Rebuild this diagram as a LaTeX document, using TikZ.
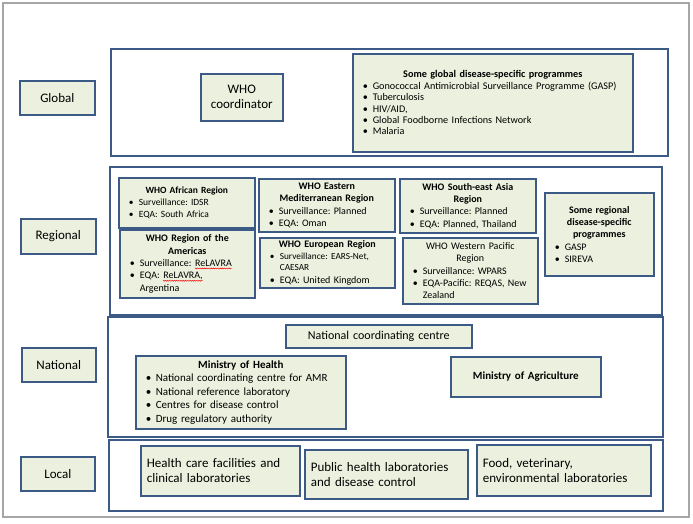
\documentclass[tikz,border=0pt]{standalone}
\usepackage{fontspec}
\setmainfont{Carlito}
\usetikzlibrary{decorations.pathmorphing}
\frenchspacing
\definecolor{boxfill}{HTML}{EBF1DE}
\definecolor{boxline}{HTML}{3B5A85}
\definecolor{pageframe}{HTML}{A6A6A6}
\newcommand\redwave[1]{\tikz[baseline=(wv.base), x=1cm, y=1cm]{\node[inner sep=0pt, anchor=base, draw=none, fill=none, text width={}, minimum width=0pt, minimum height=0pt, align=none] (wv) {#1}; \draw[red, line width=0.4pt, decorate, decoration={snake, amplitude=0.5pt, segment length=1.8pt}] ([yshift=-2pt]wv.base west) -- ([yshift=-2pt]wv.base east);}}
\newcommand\bitem[1]{\par\noindent\hangindent=17pt\hangafter=1\hspace*{7pt}\makebox[10pt][l]{\textbullet}#1\par}
\newcommand\btitle[1]{{\centering\bfseries #1\par}}
\newcommand\ntitle[1]{{\centering #1\par}}
\newcommand\pbox[7]{%
  \pgfmathsetmacro\tw{#4-#2-6}%
  \node[#6, anchor=north west, minimum width={#4pt-#2pt}, minimum height={#5pt-#3pt}, text width=\tw pt] (#1) at (#2,#3) {#7};}
\tikzset{
  box/.style={draw=boxline, fill=boxfill, line width=1.6pt, inner xsep=3pt, inner ysep=1pt},
  outer/.style={draw=boxline, fill=white, line width=1.6pt, inner sep=0pt},
  lab/.style={box, align=center, font=\fontsize{13}{15}\selectfont},
  reg/.style={box, font=\fontsize{10}{12.3}\selectfont},
}
\begin{document}
\begin{tikzpicture}[x=1pt,y=-1pt]
\useasboundingbox (0,0) rectangle (693,523);
\fill[white] (0,0) rectangle (693,523);
\draw[pageframe, line width=2.5pt] (3,3) rectangle (689,517);
% outer rows
\pbox{globalrow}{110}{48}{667}{155}{outer}{}
\pbox{regionalrow}{109}{166}{661}{314}{outer}{}
\pbox{nationalrow}{107}{316}{662}{436}{outer}{}
\pbox{localrow}{108}{439}{662}{510}{outer}{}
% level labels
\pbox{global}{19}{80}{94}{114}{lab}{Global}
\pbox{regional}{20}{218}{95}{253}{lab}{Regional}
\pbox{national}{21}{347}{95}{381}{lab}{National}
\pbox{local}{20}{456}{94}{490}{lab}{Local}
% global
\pbox{who}{200}{73}{282}{120}{lab}{WHO\\coordinator}
\pbox{gprog}{352}{53}{632}{151}{box, font=\fontsize{10.2}{11.4}\selectfont}{%
  \btitle{Some global disease-specific programmes}\raggedright
  \bitem{Gonococcal Antimicrobial Surveillance Programme (GASP)}
  \bitem{Tuberculosis}
  \bitem{HIV/AID,}
  \bitem{Global Foodborne Infections Network}
  \bitem{Malaria}}
% regional
\pbox{afr}{118}{177}{254}{227}{reg, font=\fontsize{9.5}{12.3}\selectfont}{%
  \btitle{WHO African Region}\raggedright
  \bitem{Surveillance: IDSR}
  \bitem{EQA: South Africa}}
\pbox{amr}{119}{229}{254}{297}{reg}{%
  \btitle{WHO Region of the\\Americas}\raggedright
  \bitem{Surveillance: \redwave{ReLAVRA}}
  \bitem{EQA: \redwave{ReLAVRA,}\newline Argentina}}
\pbox{emr}{258}{178}{394}{231}{reg}{%
  \btitle{WHO Eastern\\Mediterranean Region}\raggedright
  \bitem{Surveillance: Planned}
  \bitem{EQA: Oman}}
\pbox{eur}{259}{237}{394}{287}{reg}{%
  \btitle{WHO European Region}\raggedright
  {\fontsize{9.3}{11.5}\selectfont\bitem{Surveillance: EARS-Net,\newline CAESAR}}
  \bitem{EQA: United Kingdom}}
\pbox{sear}{399}{178}{535}{232}{reg}{%
  \btitle{WHO South-east Asia\\Region}\raggedright
  \bitem{Surveillance: Planned}
  \bitem{EQA: Planned, Thailand}}
\pbox{wpr}{402}{237}{537}{303}{reg}{%
  \ntitle{WHO Western Pacific\\Region}\raggedright
  \bitem{Surveillance: WPARS}
  \bitem{EQA-Pacific: REQAS, New\newline Zealand}}
\pbox{rprog}{544}{192}{653}{275}{reg}{%
  \btitle{Some regional\\disease-specific\\programmes}\raggedright
  \bitem{GASP}
  \bitem{SIREVA}}
% national
\pbox{ncc}{285}{324}{471}{347}{lab, font=\fontsize{12}{14}\selectfont}{National coordinating centre}
\pbox{moh}{135}{355}{345}{428}{box, font=\fontsize{11}{13.6}\selectfont}{%
  \btitle{Ministry of Health}\raggedright
  \bitem{National coordinating centre for AMR}
  \bitem{National reference laboratory}
  \bitem{Centres for disease control}
  \bitem{Drug regulatory authority}}
\pbox{moa}{450}{356}{600}{396}{box, align=center, font=\fontsize{11}{13}\selectfont\bfseries}{Ministry of Agriculture}
% local
\pbox{hcf}{140}{445}{293}{495}{lab, align=left, inner xsep=6pt}{Health care facilities and\\clinical laboratories}
\pbox{phl}{304}{449}{461}{498}{lab, align=left, inner xsep=6pt}{Public health laboratories\\and disease control}
\pbox{food}{476}{444}{644}{495}{lab, align=left, inner xsep=6pt}{Food, veterinary,\\environmental laboratories}
\end{tikzpicture}
\end{document}
